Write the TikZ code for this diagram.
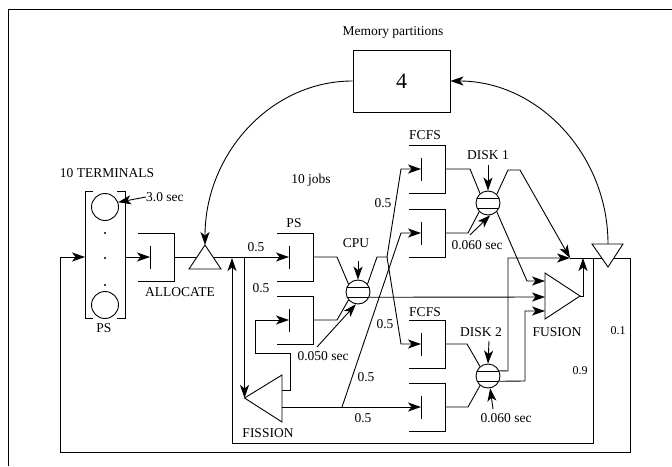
\documentclass[tikz,border=0pt]{standalone}
\usepackage{fontspec}
\setmainfont{Liberation Serif}
\usetikzlibrary{arrows.meta,calc}
\begin{document}
\begin{tikzpicture}[x=1pt,y=-1pt,
  ln/.style={line width=0.9pt},
  arr/.style={ln,-{Stealth[length=13pt,width=9pt,inset=3.5pt]}},
  lbl/.style={font=\fontsize{13.5}{15}\selectfont, inner sep=0pt},
  slbl/.style={font=\fontsize{12}{14}\selectfont, inner sep=0pt},
  server/.style={circle, draw, line width=0.9pt, minimum size=24pt, inner sep=0pt, fill=white,
    path picture={
      \draw[line width=0.9pt] ([yshift=5pt]path picture bounding box.west) -- ([yshift=5pt]path picture bounding box.east);
      \draw[line width=0.9pt] ([yshift=-5pt]path picture bounding box.west) -- ([yshift=-5pt]path picture bounding box.east);}},
  term/.style={circle, draw, line width=0.9pt, minimum width=24pt, minimum height=27pt, inner sep=0pt},
  dotn/.style={circle, fill, inner sep=0pt, minimum size=2.4pt},
  tri/.style={ln, fill=white},
  queue/.pic={
    \draw[line width=0.9pt] (0,-24) -- (36,-24) -- (36,24) -- (0,24);
    \draw[line width=0.9pt] (12,-11.5) -- (12,11.5);
    \coordinate (-in) at (12,0);
    \coordinate (-out) at (36,0);
  }
]
\useasboundingbox (0,0) rectangle (672,466);
% frame
\draw[line width=1pt] (8,466) -- (8,9.5) -- (672,9.5);

% ---------- coordinates ----------
\coordinate (termin) at (85,257);
\coordinate (termout) at (125,257);
\coordinate (loopL) at (60,257);
\coordinate (loopLB) at (60,452);
\coordinate (loopRB) at (630,452);
\coordinate (loopR) at (630,258);
\coordinate (inR) at (593,258);
\coordinate (inRB) at (593,443);
\coordinate (inLB) at (232,443);
\coordinate (inL) at (232,258);
\coordinate (br1) at (244.5,257);
\coordinate (aapex) at (205,245);
\coordinate (abl) at (189,269);
\coordinate (abr) at (221,269);
\coordinate (rtl) at (592,244);
\coordinate (rtr) at (623,244);
\coordinate (rapex) at (608,267);
\coordinate (rtop) at (608,244);
\coordinate (fapex) at (244.5,398);
\coordinate (ftop) at (282,375);
\coordinate (fbot) at (282,422);
\coordinate (fo1) at (282,390);
\coordinate (fo2) at (282,407);
\coordinate (fbr) at (342,407);
\coordinate (usT) at (545,273);
\coordinate (usB) at (545,319);
\coordinate (usA) at (580,296);
\coordinate (fustop) at (545,281);
\coordinate (fusmid) at (545,297);
\coordinate (fusbot) at (545,311);
\coordinate (junc) at (570,258);
\coordinate (fusup) at (583,258);
\coordinate (cpusplit) at (387,257);

% ---------- terminals ----------
\draw[ln] (93,191) -- (85,191) -- (85,318) -- (93,318);
\draw[ln] (117,191) -- (125,191) -- (125,318) -- (117,318);
\node[term] (t1) at (105,207) {};
\node[term] (t2) at (105,305) {};
\node[dotn] (dt1) at (105,233) {};
\node[dotn] (dt2) at (105,258) {};
\node[dotn] (dt3) at (105,285) {};
\node[lbl] (termlbl) at (107,173) {10 TERMINALS};
\node[lbl, anchor=west] (tsec) at (146,197) {3.0 sec};
\draw[arr] (tsec.west) -- (t1.20);
\node[lbl] (pslbl0) at (104,328) {PS};

% ---------- queues ----------
\pic (alloc) at (138,257) {queue};
\pic (ps1) at (277,257) {queue};
\pic (ps2) at (277,320) {queue};
\pic (f1) at (409,169) {queue};
\pic (f2) at (409,233) {queue};
\pic (f3) at (409,344) {queue};
\pic (f4) at (409,407) {queue};

% ---------- servers ----------
\node[server] (cpu) at (358,292) {};
\node[server] (d1) at (488,203) {};
\node[server] (d2) at (488,376) {};

% ---------- memory ----------
\node[lbl] (memlbl) at (393,32) {Memory partitions};
\node[draw, line width=0.9pt, minimum width=97pt, minimum height=62pt, inner sep=0pt,
      font=\fontsize{22}{24}\selectfont] (mem) at (401.5,81) {4};

% ---------- main flow ----------
\draw[arr] (loopL) -- (termin);
\draw[arr] (termout) -- (alloc-in);
\draw[ln] (alloc-out) -- (br1);
\draw[arr] (br1) -- (ps1-in);
\draw[arr] (br1) -- (fapex);
% allocate triangle
\draw[tri] (aapex) -- (abr) -- (abl) -- cycle;
% memory arcs
\draw[arr] (mem.west) .. controls +(-82,0) and +(0,-91) .. (aapex);
\draw[arr] (rtop) .. controls +(0,-90) and +(87,0) .. (mem.east);

% fission
\draw[tri] (fapex) -- (ftop) -- (fbot) -- cycle;
\draw[arr] (fo1) -- (290,390) -- (290,353) -- (255,353) -- (255,320) -- (ps2-in);
\draw[arr] (fo2) -- (f4-in);
\draw[arr] (fbr) -- (401,233) -- (f2-in);

% CPU
\draw[ln] (ps1-out) -- (337,257) -- (cpu.140);
\draw[ln] (ps2-out) -- (337,320) -- (cpu.220);
\draw[ln] (cpu.40) -- (377,257) -- (cpusplit);
\draw[arr] (cpusplit) -- (401,169) -- (f1-in);
\draw[arr] (cpusplit) -- (401,344) -- (f3-in);
\draw[arr] (cpu.-25) -- (fusmid);
\coordinate (cputop) at (358,261);
\draw[arr] (cputop) -- (cpu.north);
\node[lbl] (cpulbl) at (356,243) {CPU};
\node[lbl] (cpusec) at (323,356) {0.050 sec};
\coordinate (cpusecT) at (317,347);
\draw[arr] (cpusecT) -- (cpu.-100);

% DISK 1
\draw[ln] (f1-out) -- (470,169) -- (d1.130);
\draw[ln] (f2-out) -- (468,233) -- (d1.225);
\coordinate (d1top) at (488,165);
\draw[arr] (d1top) -- (d1.north);
\node[lbl] (d1lbl) at (488,155) {DISK 1};
\node[lbl] (d1sec) at (477,245) {0.060 sec};
\coordinate (d1secT) at (470,235);
\draw[arr] (d1secT) -- (d1.-80);
\draw[arr] (d1.45) -- (508,170) -- (520,170) -- (junc);
\draw[arr] (d1.-45) -- (527,281) -- (fustop);

% DISK 2
\draw[ln] (f3-out) -- (467,344) -- (d2.130);
\draw[ln] (f4-out) -- (468,407) -- (d2.230);
\coordinate (d2top) at (489,341);
\draw[arr] (d2top) -- (d2.north);
\node[lbl] (d2lbl) at (481,332) {DISK 2};
\node[lbl] (d2sec) at (506,418) {0.060 sec};
\coordinate (d2secT) at (493,409);
\draw[arr] (d2secT) -- (d2.-80);
\draw[arr] (d2.25) -- (508,371) -- (508,258) -- (junc);
\draw[arr] (d2.-25) -- (525,381) -- (525,311) -- (fusbot);

% fusion
\draw[tri] (usT) -- (usA) -- (usB) -- cycle;
\draw[arr] (usA) -- (583,296) -- (fusup);

% return loops
\draw[ln] (junc) -- (loopR) -- (loopRB) -- (loopLB) -- (loopL);
\draw[arr] (inR) -- (inRB) -- (inLB) -- (inL);
\draw[tri] (rtl) -- (rtr) -- (rapex) -- cycle;

% ---------- labels ----------
\node[lbl] (l1) at (256,247) {0.5};
\node[lbl] (l2) at (261,288) {0.5};
\node[lbl] (l3) at (383,203) {0.5};
\node[lbl] (l4) at (385,324) {0.5};
\node[lbl] (l5) at (366,377) {0.5};
\node[lbl] (l6) at (363,418) {0.5};
\node[slbl] (l7) at (618,331) {0.1};
\node[slbl] (l8) at (580,371) {0.9};
\node[lbl] (fc1) at (425,135) {FCFS};
\node[lbl] (fc2) at (425,312) {FCFS};
\node[lbl] (pslbl) at (294,223) {PS};
\node[lbl] (alloclbl) at (180,292) {ALLOCATE};
\node[lbl] (fislbl) at (268,433) {FISSION};
\node[lbl] (fuslbl) at (557,332) {FUSION};
\node[lbl] (jobs) at (311,180) {10 jobs};
\end{tikzpicture}
\end{document}
